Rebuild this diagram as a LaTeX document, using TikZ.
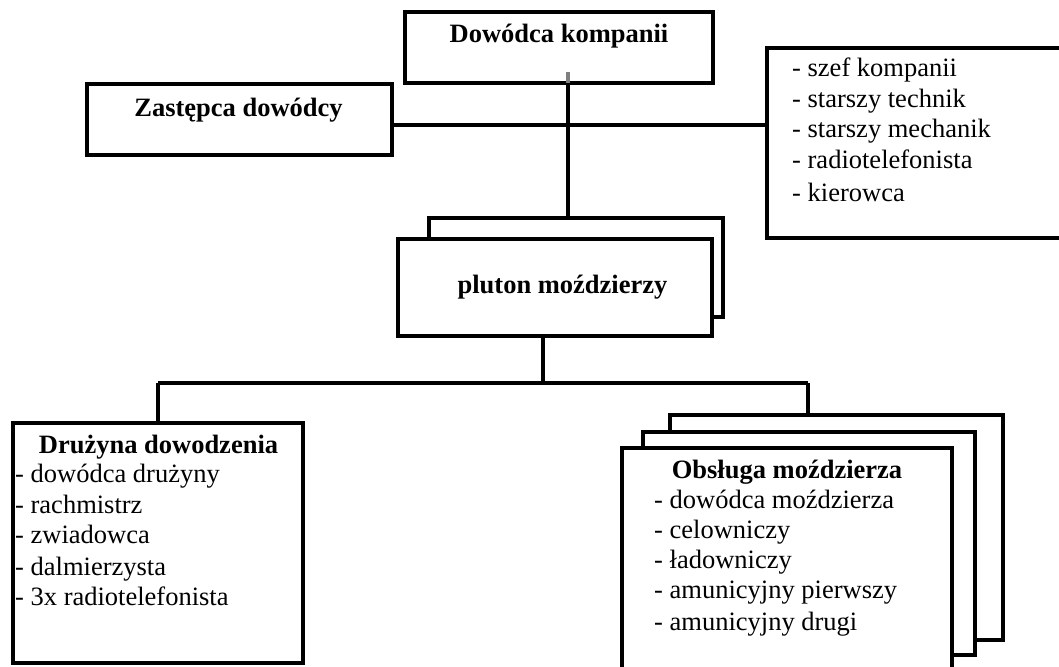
\documentclass[tikz,border=0pt]{standalone}
\usepackage{fontspec}
\setmainfont{Liberation Serif}
\begin{document}
\tikzset{
  box/.style={draw, line width=3.3pt, fill=white, inner sep=0pt, outer sep=0pt},
  txt/.style={font=\fontsize{26.5}{31}\selectfont, inner sep=0pt, anchor=base west},
  ttl/.style={font=\bfseries\fontsize{26.5}{31}\selectfont, inner sep=0pt, anchor=base},
  conn/.style={line width=3.3pt},
}
\begin{tikzpicture}[x=1pt,y=-1pt]
\useasboundingbox (0,0) rectangle (1059,666);
\clip (0,0) rectangle (1059,666);
% top boxes
\node[box, minimum width=308pt, minimum height=71pt] (dk) at (559,47.5) {};
\node[ttl] (dkt) at (559,43) {Dowódca kompanii};
\node[box, minimum width=305pt, minimum height=71pt] (zd) at (239.5,119.5) {};
\node[ttl] (zdt) at (238.5,117) {Zastępca dowódcy};
\node[box, minimum width=308pt, minimum height=190pt] (rb) at (921,143) {};
\foreach \t/\y [count=\i] in {{- szef kompanii}/77, {- starszy technik}/107, {- starszy mechanik}/137, {- radiotelefonista}/168, {- kierowca}/201}
  \node[txt, name=r\i] at (792,\y) {\t};
% pluton
\node[box, minimum width=294pt, minimum height=99pt] (pback) at (576,267.5) {};
\node[box, minimum width=314pt, minimum height=97pt] (pl) at (555,287.5) {};
\node[ttl] (plt) at (562.5,293) {pluton moździerzy};
% bottom left
\node[box, minimum width=290pt, minimum height=240pt] (dd) at (158,543) {};
\node[ttl] (ddt) at (158.5,453) {Drużyna dowodzenia};
\foreach \t/\y [count=\i] in {{- dowódca drużyny}/482, {- rachmistrz}/513, {- zwiadowca}/543, {- dalmierzysta}/575, {- 3x radiotelefonista}/605}
  \node[txt, name=d\i] at (15,\y) {\t};
% bottom right
\node[box, minimum width=333pt, minimum height=225pt] (ob3) at (836.5,527.5) {};
\node[box, minimum width=332pt, minimum height=223pt] (ob2) at (809,543.5) {};
\node[box, minimum width=330pt, minimum height=232pt] (ob) at (787,564) {};
\node[ttl] (obt) at (787,478) {Obsługa moździerza};
\foreach \t/\y [count=\i] in {{- dowódca moździerza}/508, {- celowniczy}/538, {- ładowniczy}/568, {- amunicyjny pierwszy}/598, {- amunicyjny drugi}/630}
  \node[txt, name=o\i] at (654,\y) {\t};
% connectors
\coordinate (stub) at (568,72);
\coordinate (j1) at (568,125);
\coordinate (j2) at (543,383);
\coordinate (jl) at (158,383);
\coordinate (jr) at (808,383);
\draw[conn, gray] (stub) -- (stub |- dk.south);
\draw[conn] (stub |- dk.south) -- (stub |- pback.north);
\draw[conn] (zd.east |- j1) -- (rb.west |- j1);
\draw[conn] (j2 |- pl.south) -- (j2);
\draw[conn] (jl) -- (jr);
\draw[conn] (jl) -- (jl |- dd.north);
\draw[conn] (jr) -- (jr |- ob3.north);
\end{tikzpicture}
\end{document}
